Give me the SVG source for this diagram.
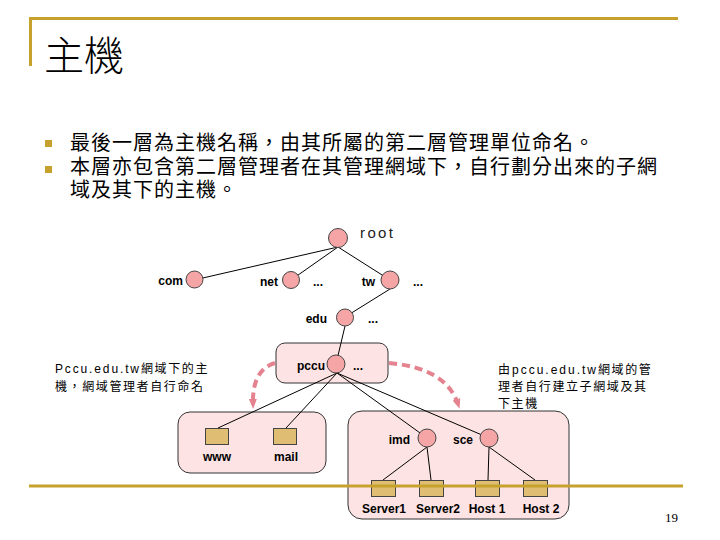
<svg xmlns="http://www.w3.org/2000/svg" width="720" height="540" viewBox="0 0 720 540">
<defs>
<style>
.gold{stroke:#C6A12E;stroke-width:3;fill:none}
.cjk{font-family:"Noto Sans CJK TC","Noto Sans CJK SC",sans-serif;fill:#000}
.bul{font-family:"Liberation Sans","Noto Sans CJK TC",sans-serif;font-size:20px;letter-spacing:1px;fill:#000}
.lbl{font-family:"Liberation Sans",Arial,sans-serif;font-weight:bold;font-size:12px;fill:#000}
.ann{font-family:"Liberation Sans","Noto Sans CJK TC",sans-serif;font-size:12px;letter-spacing:1.6px;fill:#000}
.annl{font-family:"Liberation Sans",Arial,sans-serif;font-size:12px;fill:#000}
.node{fill:#F5A5A5;stroke:#444;stroke-width:1}
.host{fill:#DFBE73;stroke:#444;stroke-width:1}
.box{fill:#FDE3E3;stroke:#333;stroke-width:1}
.edge{stroke:#000;stroke-width:1;fill:none}
.dash{stroke:#E5828F;stroke-width:4;fill:none;stroke-dasharray:8 5}
</style>
<marker id="ah" markerWidth="10" markerHeight="10" refX="5" refY="5" orient="auto" markerUnits="userSpaceOnUse">
<path d="M0,1 L10,5 L0,9 Z" fill="#E5828F"/>
</marker>
</defs>
<rect width="720" height="540" fill="#fff"/>
<g id="frame">
<line class="gold" x1="29" y1="18.5" x2="678" y2="18.5"/>
<line class="gold" x1="30.5" y1="17" x2="30.5" y2="66"/>
<text class="cjk" x="44" y="70" font-size="40" font-weight="300">主機</text>
<rect x="45" y="140" width="7" height="7" fill="#C6A12E"/>
<rect x="45" y="166" width="7" height="7" fill="#C6A12E"/>
<text class="bul" x="70" y="150">最後一層為主機名稱，由其所屬的第二層管理單位命名。</text>
<text class="bul" x="70" y="174">本層亦包含第二層管理者在其管理網域下，自行劃分出來的子網</text>
<text class="bul" x="70" y="197">域及其下的主機。</text>
</g>
<g id="boxes">
<rect id="box-pccu" class="box" x="276" y="343" width="112" height="40" rx="9"/>
<rect id="box-left" class="box" x="178" y="412" width="148" height="61" rx="12"/>
<rect id="box-right" class="box" x="348" y="411" width="221" height="108" rx="14"/>
</g>
<g id="connectors">
<line class="edge" x1="338" y1="247" x2="194" y2="280"/>
<line class="edge" x1="338" y1="247" x2="291" y2="280"/>
<line class="edge" x1="338" y1="247" x2="390" y2="280"/>
<line class="edge" x1="390" y1="289" x2="345" y2="317"/>
<line class="edge" x1="345" y1="326" x2="336" y2="364"/>
<line class="edge" x1="337" y1="373" x2="218" y2="428"/>
<line class="edge" x1="337" y1="373" x2="286" y2="428"/>
<line class="edge" x1="337" y1="373" x2="427" y2="438"/>
<line class="edge" x1="337" y1="373" x2="489" y2="438"/>
<line class="edge" x1="427" y1="447" x2="383" y2="480"/>
<line class="edge" x1="427" y1="447" x2="431" y2="480"/>
<line class="edge" x1="489" y1="447" x2="488" y2="480"/>
<line class="edge" x1="489" y1="447" x2="535" y2="480"/>
<path class="dash" d="M275,363 Q252,370 253,404" marker-end="url(#ah)"/>
<path class="dash" d="M389,363 Q446,368 458,404" marker-end="url(#ah)"/>
</g>
<g id="n-root"><circle class="node" cx="338" cy="238" r="9.5"/><text x="360" y="238" font-family="Liberation Sans,Arial,sans-serif" font-size="15" fill="#222" textLength="33" lengthAdjust="spacing">root</text></g>
<g id="n-com"><circle class="node" cx="194.5" cy="279.5" r="8.5"/><text class="lbl" x="183" y="285" text-anchor="end">com</text></g>
<g id="n-net"><circle class="node" cx="291" cy="280" r="8.5"/><text class="lbl" x="278" y="285.5" text-anchor="end">net</text><text class="lbl" x="313" y="285.5">...</text></g>
<g id="n-tw"><circle class="node" cx="390" cy="280" r="9"/><text class="lbl" x="375" y="285.5" text-anchor="end">tw</text><text class="lbl" x="413" y="285.5">...</text></g>
<g id="n-edu"><circle class="node" cx="345" cy="317.5" r="8.5"/><text class="lbl" x="327" y="323" text-anchor="end">edu</text><text class="lbl" x="368" y="323">...</text></g>
<g id="n-pccu"><circle class="node" cx="336" cy="364" r="9"/><text class="lbl" x="325" y="370" text-anchor="end">pccu</text><text class="lbl" x="353" y="370">...</text></g>
<g id="n-imd"><circle class="node" cx="427" cy="438" r="9"/><text class="lbl" x="410" y="444" text-anchor="end">imd</text></g>
<g id="n-sce"><circle class="node" cx="489" cy="438" r="9"/><text class="lbl" x="473" y="444" text-anchor="end">sce</text></g>
<g id="n-www"><rect class="host" x="205.5" y="428.5" width="23" height="16"/><text class="lbl" x="217" y="461" text-anchor="middle">www</text></g>
<g id="n-mail"><rect class="host" x="273.5" y="428.5" width="23" height="16"/><text class="lbl" x="286" y="461" text-anchor="middle">mail</text></g>
<g id="n-server1"><rect class="host" x="371.5" y="480.5" width="24" height="16"/><text class="lbl" x="384" y="513" text-anchor="middle">Server1</text></g>
<g id="n-server2"><rect class="host" x="419.5" y="480.5" width="24" height="16"/><text class="lbl" x="438" y="513" text-anchor="middle">Server2</text></g>
<g id="n-host1"><rect class="host" x="475.5" y="480.5" width="24" height="16"/><text class="lbl" x="487" y="513" text-anchor="middle">Host 1</text></g>
<g id="n-host2"><rect class="host" x="523.5" y="480.5" width="24" height="16"/><text class="lbl" x="541" y="513" text-anchor="middle">Host 2</text></g>
<g id="annotations">
<text class="annl" x="55" y="373" textLength="84" lengthAdjust="spacing">Pccu.edu.tw</text>
<text class="ann" x="141" y="373">網域下的主</text>
<text class="ann" x="55" y="391">機，網域管理者自行命名</text>
<text class="ann" x="498" y="374">由</text>
<text class="annl" x="512" y="374" textLength="84" lengthAdjust="spacing">pccu.edu.tw</text>
<text class="ann" x="598" y="374">網域的管</text>
<text class="ann" x="498" y="391">理者自行建立子網域及其</text>
<text class="ann" x="498" y="408">下主機</text>
</g>
<g id="footer">
<line class="gold" x1="29" y1="486" x2="683" y2="486"/>
<text x="665" y="522" font-family="Liberation Serif,serif" font-size="13" fill="#000">19</text>
</g>
</svg>
